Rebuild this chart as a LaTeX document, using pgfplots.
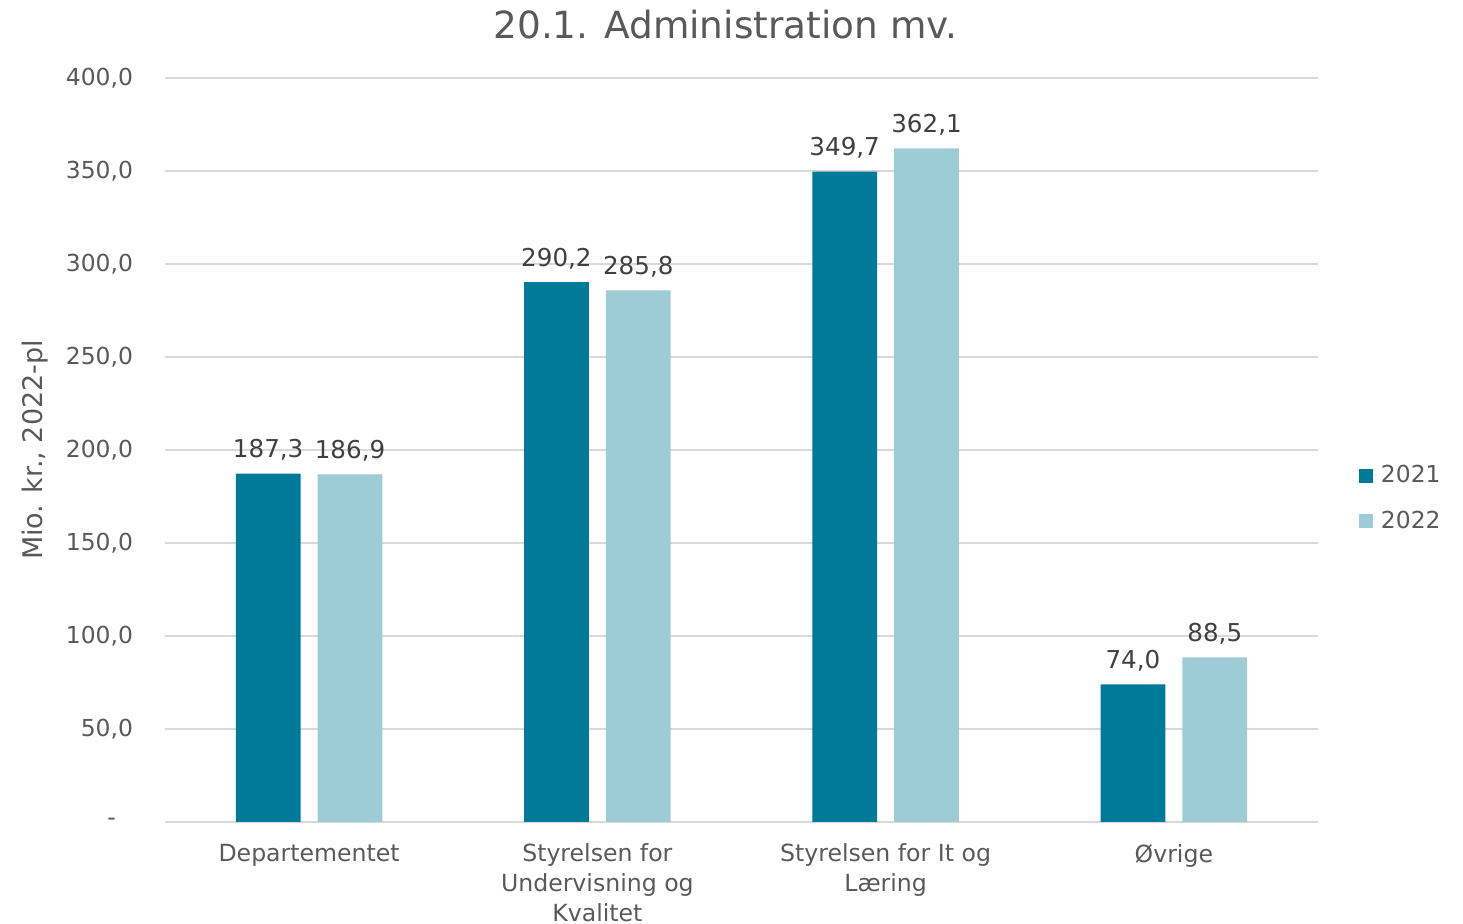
\documentclass[border=0pt]{standalone}
\usepackage{fontspec}
\setmainfont{DejaVu Sans}
\usepackage{pgfplots}
\pgfplotsset{compat=1.18}
\definecolor{darkteal}{HTML}{007A99}
\definecolor{lightteal}{HTML}{9DCBD6}
\definecolor{txtgray}{HTML}{595959}
\definecolor{lblgray}{HTML}{404040}
\definecolor{gridgray}{HTML}{D9D9D9}
\begin{document}
\begin{tikzpicture}
\begin{axis}[
    scale only axis,
    width=576.5pt, height=372pt,
    xmin=-0.5, xmax=3.5,
    ymin=0, ymax=400,
    xtick={0,1,2,3},
    xticklabels={Departementet, {Styrelsen for\\Undervisning og\\Kvalitet}, {Styrelsen for It og\\Læring}, Øvrige},
    xticklabel style={align=center, font=\fontsize{11.8}{15}\selectfont, text=txtgray, yshift=-7.5pt},
    ytick={0,50,...,400},
    yticklabels={{-\hspace*{8.5pt}},{50,0},{100,0},{150,0},{200,0},{250,0},{300,0},{350,0},{400,0}},
    yticklabel style={font=\fontsize{11.7}{14}\selectfont, text=txtgray, xshift=-12.5pt},
    major tick length=0pt,
    ymajorgrids, grid style={gridgray, line width=0.8pt},
    axis lines*=left,
    x axis line style={gridgray, line width=0.8pt, -},
    y axis line style={draw=none},
    ylabel={Mio. kr., 2022-pl},
    every axis y label/.style={at={(rel axis cs:0,0.5)}, xshift=-65pt, rotate=90, anchor=center,
        font=\fontsize{13.5}{16}\selectfont, text=txtgray},
    title={20.1. Administration mv.},
    title style={font=\fontsize{18.7}{22}\selectfont, text=txtgray, yshift=10pt, xshift=-8pt},
    ybar, bar width=0.225,
    nodes near coords,
    nodes near coords style={font=\fontsize{12.3}{14}\selectfont, text=lblgray, yshift=3pt,
        /pgf/number format/.cd, fixed, fixed zerofill, precision=1, use comma, assume math mode=true},
    legend style={at={(1.030,0.435)}, anchor=west, draw=none, fill=none,
        font=\fontsize{11.7}{14}\selectfont, text=txtgray, row sep=8.5pt,
        legend cell align=left},
    legend image code/.code={\fill[#1] (0pt,-3.5pt) rectangle (7pt,3.5pt); \path (0pt,0pt) -- (9pt,0pt);},
]
\addplot[fill=darkteal, draw=none, bar shift=-0.142] coordinates {
    (0,187.3) (1,290.2) (2,349.7) (3,74.0)
};
\addlegendentry{2021}
\addplot[fill=lightteal, draw=none, bar shift=0.142] coordinates {
    (0,186.9) (1,285.8) (2,362.1) (3,88.5)
};
\addlegendentry{2022}
\coordinate (o) at (rel axis cs:0,0);
\end{axis}
\pgfresetboundingbox
\path[use as bounding box] (o) ++(-82.5pt,-51pt) rectangle ++(731.5pt,462pt);
\end{tikzpicture}
\end{document}
